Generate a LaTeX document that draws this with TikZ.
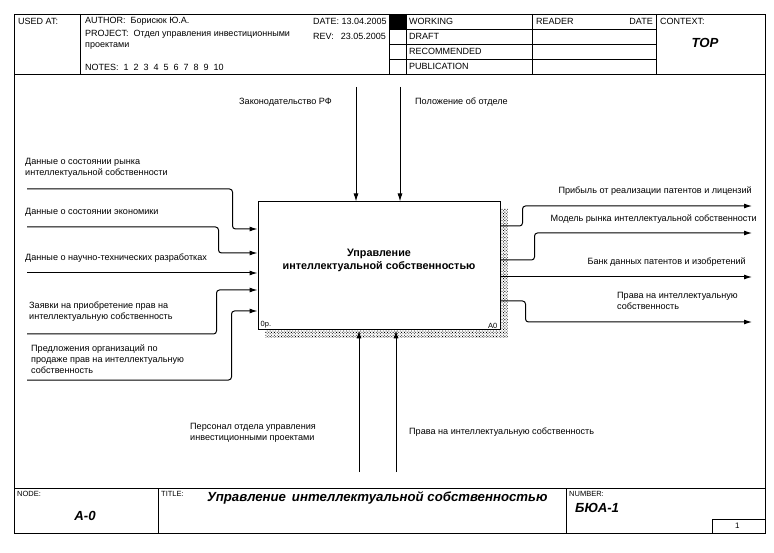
\documentclass[tikz,border=0pt]{standalone}
\usepackage{fontspec}
\setmainfont{Liberation Sans}
\usetikzlibrary{arrows.meta,patterns.meta}

\begin{document}
\begin{tikzpicture}[x=1pt, y=-1pt,
  lbl/.style = {inner sep=0pt, align=left, font=\fontsize{9.1}{11}\selectfont},
  hdr/.style = {inner sep=0pt, anchor=west, align=left, font=\fontsize{9}{11}\selectfont},
  tag/.style = {inner sep=0pt, anchor=west, font=\fontsize{7.5}{8}\selectfont},
  big/.style = {inner sep=0pt, font=\fontsize{13.2}{15}\selectfont\bfseries\itshape},
  box/.style = {draw, line width=1pt, minimum width=242pt, minimum height=128pt, inner sep=0pt},
  boxlbl/.style = {align=center, yshift=5.5pt, font=\fontsize{10.8}{13}\selectfont\bfseries},
  arr/.style = {line width=1pt, rounded corners=3pt, -{Latex[length=8pt,width=5pt]}},
  frame/.style = {line width=0.8pt},
  shade/.style = {pattern={Dots[distance=2pt, radius=0.6pt, angle=45]}, pattern color=black}
  ]
  \useasboundingbox (0,0) rectangle (774,553);

  % form
  \draw[frame] (14,14) rectangle (765,533);
  \draw[frame] (14,74) -- (765,74) (14,488) -- (765,488);
  \draw[frame] (80,14) -- (80,74) (389,14) -- (389,74) (406,14) -- (406,74)
    (532,14) -- (532,74) (656,14) -- (656,74);
  \foreach \y in {29,44,59} \draw[frame] (389,\y) -- (656,\y);
  \fill (389,14) rectangle (406,29);
  \draw[frame] (158,488) -- (158,533) (566,488) -- (566,533);
  \draw[frame] (712,519) rectangle (765,533);

  \node[hdr] (usedat) at (18,21.5) {USED AT:};
  \node[hdr] (author) at (85,21.5) {AUTHOR:\hspace{5pt}Борисюк Ю.А.};
  \node[hdr] (date) at (313,21.5) {DATE: 13.04.2005};
  \node[hdr, anchor=north west] (project) at (85,30.5) {PROJECT:\hspace{5pt}Отдел управления инвестиционными\\проектами};
  \node[hdr] (rev) at (313,36) {REV:\hspace{7pt}23.05.2005};
  \node[hdr] (notes) at (85,67) {NOTES:\hspace{5pt}1\hspace{5pt}2\hspace{5pt}3\hspace{5pt}4\hspace{5pt}5\hspace{5pt}6\hspace{5pt}7\hspace{5pt}8\hspace{5pt}9\hspace{5pt}10};
  \node[hdr] (working) at (409,21.5) {WORKING};
  \node[hdr] (draft) at (409,36.5) {DRAFT};
  \node[hdr] (recom) at (409,51.5) {RECOMMENDED};
  \node[hdr] (publ) at (409,66.5) {PUBLICATION};
  \node[hdr] (reader) at (536,21.5) {READER};
  \node[hdr, anchor=east] (rdate) at (653,21.5) {DATE};
  \node[hdr] (context) at (660,21.5) {CONTEXT:};
  \node[big] (top) at (705,43) {TOP};

  \node[tag] (nodetag) at (17,494) {NODE:};
  \node[big] (nodeno) at (85,516) {A-0};
  \node[tag] (titletag) at (161,494) {TITLE:};
  \node[big, anchor=west] (title) at (207,498) {Управление\hspace{6pt}интеллектуальной собственностью};
  \node[tag] (numtag) at (569,494) {NUMBER:};
  \node[big, anchor=west] (number) at (575,508) {БЮА-1};
  \node[tag, font=\fontsize{8}{9}\selectfont] (page) at (735,525.5) {1};

  % activity
  \fill[shade] (500,209) rectangle (508,338) (265,330) rectangle (508,338);
  \node[box, fill=white, label={[boxlbl]center:Управление\\интеллектуальной собственностью}] (A0) at (379,266) {};
  \node[tag, anchor=south west] (cost) at ([shift={(3pt,2pt)}]A0.south west) {0р.};
  \node[tag, anchor=south east] (code) at ([shift={(-3pt,2pt)}]A0.south east) {A0};

  \foreach \n/\y in {1/229,2/253,3/273,4/290,5/311}
    \coordinate (i\n) at (A0.west |- 0,\y);
  \foreach \n/\y in {1/226,2/260,3/277,4/301}
    \coordinate (o\n) at (A0.east |- 0,\y);

  \coordinate (in1) at (27,189);
  \coordinate (in2) at (27,227);
  \coordinate (in3) at (27,273);
  \coordinate (in4) at (27,334);
  \coordinate (in5) at (27,380);
  \coordinate (out1) at (752,206);
  \coordinate (out2) at (752,233);
  \coordinate (out3) at (752,277);
  \coordinate (out4) at (752,322);
  \coordinate (c1) at (356,87);
  \coordinate (c2) at (400,87);
  \coordinate (m1) at (359,472);
  \coordinate (m2) at (396,472);

  \draw[arr] (in1) -| ([xshift=-25pt]i1) -- (i1);
  \draw[arr] (in2) -| ([xshift=-39pt]i2) -- (i2);
  \draw[arr] (in3) -- (i3);
  \draw[arr] (in4) -| ([xshift=-41pt]i4) -- (i4);
  \draw[arr] (in5) -| ([xshift=-26pt]i5) -- (i5);

  \draw[arr] (o1) -- ([xshift=22pt]o1) |- (out1);
  \draw[arr] (o2) -- ([xshift=34pt]o2) |- (out2);
  \draw[arr] (o3) -- (out3);
  \draw[arr] (o4) -- ([xshift=25pt]o4) |- (out4);

  \draw[arr] (c1) -- (c1 |- A0.north);
  \draw[arr] (c2) -- (c2 |- A0.north);
  \draw[arr] (m1) -- (m1 |- A0.south);
  \draw[arr] (m2) -- (m2 |- A0.south);

  \node[lbl, anchor=west] (law) at (239,102) {Законодательство РФ};
  \node[lbl, anchor=west] (reg) at (415,102) {Положение об отделе};
  \node[lbl, anchor=west] (mkt) at (25,167.5) {Данные о состоянии рынка\\интеллектуальной собственности};
  \node[lbl, anchor=west] (eco) at (25,212) {Данные о состоянии экономики};
  \node[lbl, anchor=west] (sci) at (25,258) {Данные о научно-технических разработках};
  \node[lbl, anchor=west] (bid) at (29,311.5) {Заявки на приобретение прав на\\интеллектуальную собственность};
  \node[lbl, anchor=west] (offer) at (31,359) {Предложения организаций по\\продаже прав на интеллектуальную\\собственность};
  \node[lbl, anchor=east] (profit) at (752,191) {Прибыль от реализации патентов и лицензий};
  \node[lbl, anchor=east] (model) at (757,219) {Модель рынка интеллектуальной собственности};
  \node[lbl, anchor=east] (bank) at (746,262) {Банк данных патентов и изобретений};
  \node[lbl, anchor=west] (rights) at (617,300.5) {Права на интеллектуальную\\собственность};
  \node[lbl, anchor=west] (staff) at (190,432.5) {Персонал отдела управления\\инвестиционными проектами};
  \node[lbl, anchor=west] (ipr) at (409,432) {Права на интеллектуальную собственность};
\end{tikzpicture}
\end{document}
